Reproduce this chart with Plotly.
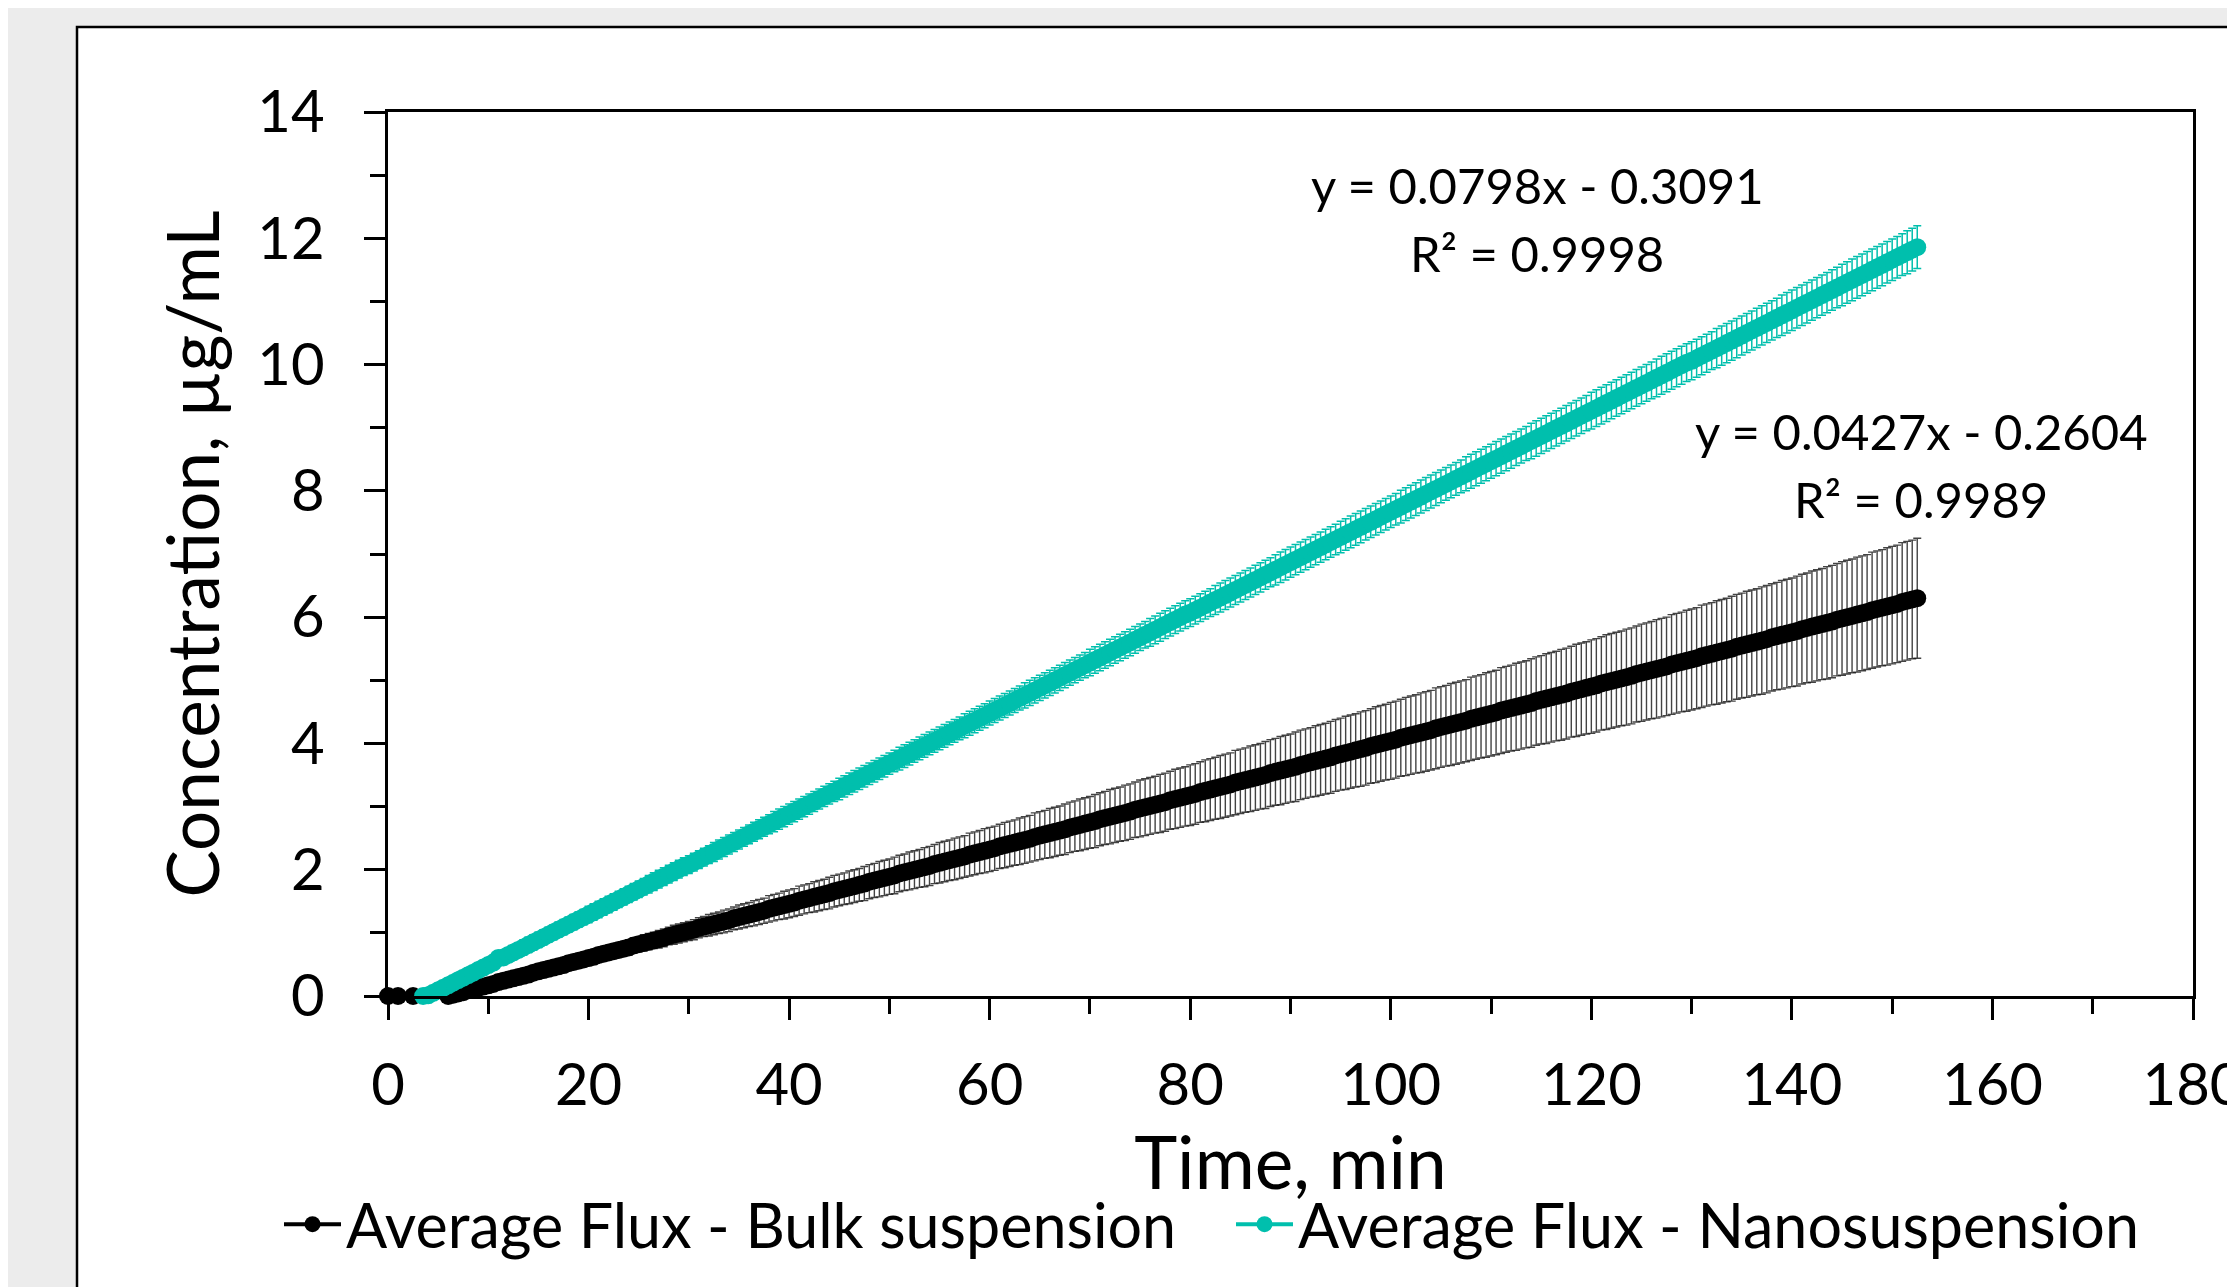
import plotly.graph_objects as go

# ---------------- data ----------------
bulk_time = [
    0, 1, 2.5,
    6, 6.5, 7, 7.5, 8, 8.5, 9, 9.5, 10, 10.5,
    11, 11.5, 12, 12.5, 13, 13.5, 14, 14.5, 15, 15.5,
    16, 16.5, 17, 17.5, 18, 18.5, 19, 19.5, 20, 20.5,
    21, 21.5, 22, 22.5, 23, 23.5, 24, 24.5, 25, 25.5,
    26, 26.5, 27, 27.5, 28, 28.5, 29, 29.5, 30, 30.5,
    31, 31.5, 32, 32.5, 33, 33.5, 34, 34.5, 35, 35.5,
    36, 36.5, 37, 37.5, 38, 38.5, 39, 39.5, 40, 40.5,
    41, 41.5, 42, 42.5, 43, 43.5, 44, 44.5, 45, 45.5,
    46, 46.5, 47, 47.5, 48, 48.5, 49, 49.5, 50, 50.5,
    51, 51.5, 52, 52.5, 53, 53.5, 54, 54.5, 55, 55.5,
    56, 56.5, 57, 57.5, 58, 58.5, 59, 59.5, 60, 60.5,
    61, 61.5, 62, 62.5, 63, 63.5, 64, 64.5, 65, 65.5,
    66, 66.5, 67, 67.5, 68, 68.5, 69, 69.5, 70, 70.5,
    71, 71.5, 72, 72.5, 73, 73.5, 74, 74.5, 75, 75.5,
    76, 76.5, 77, 77.5, 78, 78.5, 79, 79.5, 80, 80.5,
    81, 81.5, 82, 82.5, 83, 83.5, 84, 84.5, 85, 85.5,
    86, 86.5, 87, 87.5, 88, 88.5, 89, 89.5, 90, 90.5,
    91, 91.5, 92, 92.5, 93, 93.5, 94, 94.5, 95, 95.5,
    96, 96.5, 97, 97.5, 98, 98.5, 99, 99.5, 100, 100.5,
    101, 101.5, 102, 102.5, 103, 103.5, 104, 104.5, 105, 105.5,
    106, 106.5, 107, 107.5, 108, 108.5, 109, 109.5, 110, 110.5,
    111, 111.5, 112, 112.5, 113, 113.5, 114, 114.5, 115, 115.5,
    116, 116.5, 117, 117.5, 118, 118.5, 119, 119.5, 120, 120.5,
    121, 121.5, 122, 122.5, 123, 123.5, 124, 124.5, 125, 125.5,
    126, 126.5, 127, 127.5, 128, 128.5, 129, 129.5, 130, 130.5,
    131, 131.5, 132, 132.5, 133, 133.5, 134, 134.5, 135, 135.5,
    136, 136.5, 137, 137.5, 138, 138.5, 139, 139.5, 140, 140.5,
    141, 141.5, 142, 142.5, 143, 143.5, 144, 144.5, 145, 145.5,
    146, 146.5, 147, 147.5, 148, 148.5, 149, 149.5, 150, 150.5,
    151, 151.5, 152, 152.5,
]
bulk_conc = [
    0.00, 0.00, 0.00,
    0.00, 0.02, 0.04, 0.06, 0.09, 0.11, 0.13, 0.15, 0.17, 0.19,
    0.22, 0.24, 0.26, 0.28, 0.30, 0.32, 0.34, 0.37, 0.39, 0.41,
    0.43, 0.45, 0.47, 0.49, 0.52, 0.54, 0.56, 0.58, 0.60, 0.62,
    0.65, 0.67, 0.69, 0.71, 0.73, 0.75, 0.77, 0.80, 0.82, 0.84,
    0.86, 0.88, 0.90, 0.92, 0.95, 0.97, 0.99, 1.01, 1.03, 1.05,
    1.08, 1.10, 1.12, 1.14, 1.16, 1.18, 1.20, 1.23, 1.25, 1.27,
    1.29, 1.31, 1.33, 1.35, 1.38, 1.40, 1.42, 1.44, 1.46, 1.48,
    1.51, 1.53, 1.55, 1.57, 1.59, 1.61, 1.63, 1.66, 1.68, 1.70,
    1.72, 1.74, 1.76, 1.78, 1.81, 1.83, 1.85, 1.87, 1.89, 1.91,
    1.94, 1.96, 1.98, 2.00, 2.02, 2.04, 2.06, 2.09, 2.11, 2.13,
    2.15, 2.17, 2.19, 2.21, 2.24, 2.26, 2.28, 2.30, 2.32, 2.34,
    2.37, 2.39, 2.41, 2.43, 2.45, 2.47, 2.49, 2.52, 2.54, 2.56,
    2.58, 2.60, 2.62, 2.64, 2.67, 2.69, 2.71, 2.73, 2.75, 2.77,
    2.80, 2.82, 2.84, 2.86, 2.88, 2.90, 2.92, 2.95, 2.97, 2.99,
    3.01, 3.03, 3.05, 3.07, 3.10, 3.12, 3.14, 3.16, 3.18, 3.20,
    3.23, 3.25, 3.27, 3.29, 3.31, 3.33, 3.35, 3.38, 3.40, 3.42,
    3.44, 3.46, 3.48, 3.50, 3.53, 3.55, 3.57, 3.59, 3.61, 3.63,
    3.66, 3.68, 3.70, 3.72, 3.74, 3.76, 3.78, 3.81, 3.83, 3.85,
    3.87, 3.89, 3.91, 3.93, 3.96, 3.98, 4.00, 4.02, 4.04, 4.06,
    4.09, 4.11, 4.13, 4.15, 4.17, 4.19, 4.21, 4.24, 4.26, 4.28,
    4.30, 4.32, 4.34, 4.36, 4.39, 4.41, 4.43, 4.45, 4.47, 4.49,
    4.52, 4.54, 4.56, 4.58, 4.60, 4.62, 4.64, 4.67, 4.69, 4.71,
    4.73, 4.75, 4.77, 4.79, 4.82, 4.84, 4.86, 4.88, 4.90, 4.92,
    4.95, 4.97, 4.99, 5.01, 5.03, 5.05, 5.07, 5.10, 5.12, 5.14,
    5.16, 5.18, 5.20, 5.22, 5.25, 5.27, 5.29, 5.31, 5.33, 5.35,
    5.38, 5.40, 5.42, 5.44, 5.46, 5.48, 5.50, 5.53, 5.55, 5.57,
    5.59, 5.61, 5.63, 5.65, 5.68, 5.70, 5.72, 5.74, 5.76, 5.78,
    5.81, 5.83, 5.85, 5.87, 5.89, 5.91, 5.93, 5.96, 5.98, 6.00,
    6.02, 6.04, 6.06, 6.08, 6.11, 6.13, 6.15, 6.17, 6.19, 6.21,
    6.24, 6.26, 6.28, 6.30,
]
bulk_sd = [
    0.00, 0.00, 0.00,
    0.00, 0.00, 0.01, 0.01, 0.01, 0.02, 0.02, 0.02, 0.03, 0.03,
    0.03, 0.04, 0.04, 0.04, 0.05, 0.05, 0.05, 0.05, 0.06, 0.06,
    0.06, 0.07, 0.07, 0.07, 0.08, 0.08, 0.08, 0.09, 0.09, 0.09,
    0.10, 0.10, 0.10, 0.11, 0.11, 0.11, 0.12, 0.12, 0.12, 0.13,
    0.13, 0.13, 0.14, 0.14, 0.14, 0.15, 0.15, 0.15, 0.15, 0.16,
    0.16, 0.16, 0.17, 0.17, 0.17, 0.18, 0.18, 0.18, 0.19, 0.19,
    0.19, 0.20, 0.20, 0.20, 0.21, 0.21, 0.21, 0.22, 0.22, 0.22,
    0.23, 0.23, 0.23, 0.24, 0.24, 0.24, 0.25, 0.25, 0.25, 0.25,
    0.26, 0.26, 0.26, 0.27, 0.27, 0.27, 0.28, 0.28, 0.28, 0.29,
    0.29, 0.29, 0.30, 0.30, 0.30, 0.31, 0.31, 0.31, 0.32, 0.32,
    0.32, 0.33, 0.33, 0.33, 0.34, 0.34, 0.34, 0.35, 0.35, 0.35,
    0.35, 0.36, 0.36, 0.36, 0.37, 0.37, 0.37, 0.38, 0.38, 0.38,
    0.39, 0.39, 0.39, 0.40, 0.40, 0.40, 0.41, 0.41, 0.41, 0.42,
    0.42, 0.42, 0.43, 0.43, 0.43, 0.44, 0.44, 0.44, 0.45, 0.45,
    0.45, 0.45, 0.46, 0.46, 0.46, 0.47, 0.47, 0.47, 0.48, 0.48,
    0.48, 0.49, 0.49, 0.49, 0.50, 0.50, 0.50, 0.51, 0.51, 0.51,
    0.52, 0.52, 0.52, 0.53, 0.53, 0.53, 0.54, 0.54, 0.54, 0.55,
    0.55, 0.55, 0.55, 0.56, 0.56, 0.56, 0.57, 0.57, 0.57, 0.58,
    0.58, 0.58, 0.59, 0.59, 0.59, 0.60, 0.60, 0.60, 0.61, 0.61,
    0.61, 0.62, 0.62, 0.62, 0.63, 0.63, 0.63, 0.64, 0.64, 0.64,
    0.65, 0.65, 0.65, 0.65, 0.66, 0.66, 0.66, 0.67, 0.67, 0.67,
    0.68, 0.68, 0.68, 0.69, 0.69, 0.69, 0.70, 0.70, 0.70, 0.71,
    0.71, 0.71, 0.72, 0.72, 0.72, 0.73, 0.73, 0.73, 0.74, 0.74,
    0.74, 0.75, 0.75, 0.75, 0.75, 0.76, 0.76, 0.76, 0.77, 0.77,
    0.77, 0.78, 0.78, 0.78, 0.79, 0.79, 0.79, 0.80, 0.80, 0.80,
    0.81, 0.81, 0.81, 0.82, 0.82, 0.82, 0.83, 0.83, 0.83, 0.84,
    0.84, 0.84, 0.85, 0.85, 0.85, 0.85, 0.86, 0.86, 0.86, 0.87,
    0.87, 0.87, 0.88, 0.88, 0.88, 0.89, 0.89, 0.89, 0.90, 0.90,
    0.90, 0.91, 0.91, 0.91, 0.92, 0.92, 0.92, 0.93, 0.93, 0.93,
    0.94, 0.94, 0.94, 0.95,
]

nano_time = [
    3.5,
    4, 4.5, 5, 5.5, 6, 6.5, 7, 7.5, 8, 8.5,
    9, 9.5, 10, 10.5, 11, 11.5, 12, 12.5, 13, 13.5,
    14, 14.5, 15, 15.5, 16, 16.5, 17, 17.5, 18, 18.5,
    19, 19.5, 20, 20.5, 21, 21.5, 22, 22.5, 23, 23.5,
    24, 24.5, 25, 25.5, 26, 26.5, 27, 27.5, 28, 28.5,
    29, 29.5, 30, 30.5, 31, 31.5, 32, 32.5, 33, 33.5,
    34, 34.5, 35, 35.5, 36, 36.5, 37, 37.5, 38, 38.5,
    39, 39.5, 40, 40.5, 41, 41.5, 42, 42.5, 43, 43.5,
    44, 44.5, 45, 45.5, 46, 46.5, 47, 47.5, 48, 48.5,
    49, 49.5, 50, 50.5, 51, 51.5, 52, 52.5, 53, 53.5,
    54, 54.5, 55, 55.5, 56, 56.5, 57, 57.5, 58, 58.5,
    59, 59.5, 60, 60.5, 61, 61.5, 62, 62.5, 63, 63.5,
    64, 64.5, 65, 65.5, 66, 66.5, 67, 67.5, 68, 68.5,
    69, 69.5, 70, 70.5, 71, 71.5, 72, 72.5, 73, 73.5,
    74, 74.5, 75, 75.5, 76, 76.5, 77, 77.5, 78, 78.5,
    79, 79.5, 80, 80.5, 81, 81.5, 82, 82.5, 83, 83.5,
    84, 84.5, 85, 85.5, 86, 86.5, 87, 87.5, 88, 88.5,
    89, 89.5, 90, 90.5, 91, 91.5, 92, 92.5, 93, 93.5,
    94, 94.5, 95, 95.5, 96, 96.5, 97, 97.5, 98, 98.5,
    99, 99.5, 100, 100.5, 101, 101.5, 102, 102.5, 103, 103.5,
    104, 104.5, 105, 105.5, 106, 106.5, 107, 107.5, 108, 108.5,
    109, 109.5, 110, 110.5, 111, 111.5, 112, 112.5, 113, 113.5,
    114, 114.5, 115, 115.5, 116, 116.5, 117, 117.5, 118, 118.5,
    119, 119.5, 120, 120.5, 121, 121.5, 122, 122.5, 123, 123.5,
    124, 124.5, 125, 125.5, 126, 126.5, 127, 127.5, 128, 128.5,
    129, 129.5, 130, 130.5, 131, 131.5, 132, 132.5, 133, 133.5,
    134, 134.5, 135, 135.5, 136, 136.5, 137, 137.5, 138, 138.5,
    139, 139.5, 140, 140.5, 141, 141.5, 142, 142.5, 143, 143.5,
    144, 144.5, 145, 145.5, 146, 146.5, 147, 147.5, 148, 148.5,
    149, 149.5, 150, 150.5, 151, 151.5, 152, 152.5,
]
nano_conc = [
    0.00,
    0.01, 0.05, 0.09, 0.13, 0.17, 0.21, 0.25, 0.29, 0.33, 0.37,
    0.41, 0.45, 0.49, 0.53, 0.60, 0.61, 0.65, 0.69, 0.73, 0.77,
    0.81, 0.85, 0.89, 0.93, 0.97, 1.01, 1.05, 1.09, 1.13, 1.17,
    1.21, 1.25, 1.29, 1.33, 1.37, 1.41, 1.45, 1.49, 1.53, 1.57,
    1.61, 1.65, 1.69, 1.73, 1.77, 1.81, 1.85, 1.89, 1.93, 1.97,
    2.01, 2.05, 2.08, 2.12, 2.16, 2.20, 2.24, 2.28, 2.32, 2.36,
    2.40, 2.44, 2.48, 2.52, 2.56, 2.60, 2.64, 2.68, 2.72, 2.76,
    2.80, 2.84, 2.88, 2.92, 2.96, 3.00, 3.04, 3.08, 3.12, 3.16,
    3.20, 3.24, 3.28, 3.32, 3.36, 3.40, 3.44, 3.48, 3.52, 3.56,
    3.60, 3.64, 3.68, 3.72, 3.76, 3.80, 3.84, 3.88, 3.92, 3.96,
    4.00, 4.04, 4.08, 4.12, 4.16, 4.20, 4.24, 4.28, 4.32, 4.36,
    4.40, 4.44, 4.48, 4.52, 4.56, 4.60, 4.64, 4.68, 4.72, 4.76,
    4.80, 4.84, 4.88, 4.92, 4.96, 5.00, 5.04, 5.08, 5.12, 5.16,
    5.20, 5.24, 5.28, 5.32, 5.36, 5.40, 5.44, 5.48, 5.52, 5.56,
    5.60, 5.64, 5.68, 5.72, 5.76, 5.80, 5.84, 5.88, 5.92, 5.96,
    6.00, 6.04, 6.07, 6.11, 6.15, 6.19, 6.23, 6.27, 6.31, 6.35,
    6.39, 6.43, 6.47, 6.51, 6.55, 6.59, 6.63, 6.67, 6.71, 6.75,
    6.79, 6.83, 6.87, 6.91, 6.95, 6.99, 7.03, 7.07, 7.11, 7.15,
    7.19, 7.23, 7.27, 7.31, 7.35, 7.39, 7.43, 7.47, 7.51, 7.55,
    7.59, 7.63, 7.67, 7.71, 7.75, 7.79, 7.83, 7.87, 7.91, 7.95,
    7.99, 8.03, 8.07, 8.11, 8.15, 8.19, 8.23, 8.27, 8.31, 8.35,
    8.39, 8.43, 8.47, 8.51, 8.55, 8.59, 8.63, 8.67, 8.71, 8.75,
    8.79, 8.83, 8.87, 8.91, 8.95, 8.99, 9.03, 9.07, 9.11, 9.15,
    9.19, 9.23, 9.27, 9.31, 9.35, 9.39, 9.43, 9.47, 9.51, 9.55,
    9.59, 9.63, 9.67, 9.71, 9.75, 9.79, 9.83, 9.87, 9.91, 9.95,
    9.99, 10.03, 10.06, 10.10, 10.14, 10.18, 10.22, 10.26, 10.30, 10.34,
    10.38, 10.42, 10.46, 10.50, 10.54, 10.58, 10.62, 10.66, 10.70, 10.74,
    10.78, 10.82, 10.86, 10.90, 10.94, 10.98, 11.02, 11.06, 11.10, 11.14,
    11.18, 11.22, 11.26, 11.30, 11.34, 11.38, 11.42, 11.46, 11.50, 11.54,
    11.58, 11.62, 11.66, 11.70, 11.74, 11.78, 11.82, 11.86,
]
nano_sd = [
    0.10,
    0.10, 0.10, 0.10, 0.10, 0.10, 0.10, 0.10, 0.11, 0.11, 0.11,
    0.11, 0.11, 0.11, 0.11, 0.11, 0.11, 0.11, 0.11, 0.11, 0.12,
    0.12, 0.12, 0.12, 0.12, 0.12, 0.12, 0.12, 0.12, 0.12, 0.12,
    0.12, 0.12, 0.13, 0.13, 0.13, 0.13, 0.13, 0.13, 0.13, 0.13,
    0.13, 0.13, 0.13, 0.13, 0.14, 0.14, 0.14, 0.14, 0.14, 0.14,
    0.14, 0.14, 0.14, 0.14, 0.14, 0.14, 0.14, 0.15, 0.15, 0.15,
    0.15, 0.15, 0.15, 0.15, 0.15, 0.15, 0.15, 0.15, 0.15, 0.16,
    0.16, 0.16, 0.16, 0.16, 0.16, 0.16, 0.16, 0.16, 0.16, 0.16,
    0.16, 0.16, 0.17, 0.17, 0.17, 0.17, 0.17, 0.17, 0.17, 0.17,
    0.17, 0.17, 0.17, 0.17, 0.18, 0.18, 0.18, 0.18, 0.18, 0.18,
    0.18, 0.18, 0.18, 0.18, 0.18, 0.18, 0.18, 0.19, 0.19, 0.19,
    0.19, 0.19, 0.19, 0.19, 0.19, 0.19, 0.19, 0.19, 0.19, 0.20,
    0.20, 0.20, 0.20, 0.20, 0.20, 0.20, 0.20, 0.20, 0.20, 0.20,
    0.20, 0.20, 0.21, 0.21, 0.21, 0.21, 0.21, 0.21, 0.21, 0.21,
    0.21, 0.21, 0.21, 0.21, 0.22, 0.22, 0.22, 0.22, 0.22, 0.22,
    0.22, 0.22, 0.22, 0.22, 0.22, 0.22, 0.22, 0.23, 0.23, 0.23,
    0.23, 0.23, 0.23, 0.23, 0.23, 0.23, 0.23, 0.23, 0.23, 0.24,
    0.24, 0.24, 0.24, 0.24, 0.24, 0.24, 0.24, 0.24, 0.24, 0.24,
    0.24, 0.24, 0.25, 0.25, 0.25, 0.25, 0.25, 0.25, 0.25, 0.25,
    0.25, 0.25, 0.25, 0.25, 0.26, 0.26, 0.26, 0.26, 0.26, 0.26,
    0.26, 0.26, 0.26, 0.26, 0.26, 0.26, 0.26, 0.27, 0.27, 0.27,
    0.27, 0.27, 0.27, 0.27, 0.27, 0.27, 0.27, 0.27, 0.27, 0.27,
    0.28, 0.28, 0.28, 0.28, 0.28, 0.28, 0.28, 0.28, 0.28, 0.28,
    0.28, 0.28, 0.29, 0.29, 0.29, 0.29, 0.29, 0.29, 0.29, 0.29,
    0.29, 0.29, 0.29, 0.29, 0.29, 0.30, 0.30, 0.30, 0.30, 0.30,
    0.30, 0.30, 0.30, 0.30, 0.30, 0.30, 0.30, 0.31, 0.31, 0.31,
    0.31, 0.31, 0.31, 0.31, 0.31, 0.31, 0.31, 0.31, 0.31, 0.31,
    0.32, 0.32, 0.32, 0.32, 0.32, 0.32, 0.32, 0.32, 0.32, 0.32,
    0.32, 0.32, 0.33, 0.33, 0.33, 0.33, 0.33, 0.33, 0.33, 0.33,
    0.33, 0.33, 0.33, 0.33, 0.33, 0.34, 0.34, 0.34,
]

series_names = ["Average Flux - Bulk suspension", "Average Flux - Nanosuspension"]
trend_labels = [
    ("y = 0.0798x - 0.3091", "R² = 0.9998"),
    ("y = 0.0427x - 0.2604", "R² = 0.9989"),
]
x_ticks = [0, 20, 40, 60, 80, 100, 120, 140, 160, 180]
y_ticks = [0, 2, 4, 6, 8, 10, 12, 14]

# ---------------- styling ----------------
BLACK = "#000000"
TEAL = "#00BFAD"
FONT = "Lato"
OFF = 8                      # page body margin of the browser
W, H = 2235 - OFF, 1287 - OFF
ML, MR, MT, MB = 388 - OFF, 42, 112 - OFF, 291
pw = W - ML - MR
ph = H - MT - MB

fig = go.Figure()
fig.add_trace(go.Scatter(
    x=bulk_time, y=bulk_conc, mode="lines+markers", name=series_names[0],
    line=dict(color=BLACK, width=4),
    marker=dict(size=18, color=BLACK),
    error_y=dict(type="data", array=bulk_sd, visible=True,
                 color="rgba(20,20,20,0.8)", thickness=1.4, width=4),
    cliponaxis=False, legendwidth=880,
))
fig.add_trace(go.Scatter(
    x=nano_time, y=nano_conc, mode="lines+markers", name=series_names[1],
    line=dict(color=TEAL, width=4),
    marker=dict(size=18, color=TEAL),
    error_y=dict(type="data", array=nano_sd, visible=True,
                 color="rgba(0,191,173,1)", thickness=1.5, width=4),
    cliponaxis=False,
))

axis_common = dict(
    showline=True, linecolor=BLACK, linewidth=2.5, mirror=True,
    showgrid=False, zeroline=False, automargin=False,
    ticks="outside", ticklen=21, tickwidth=2.5, tickcolor=BLACK,
    tickfont=dict(family=FONT, size=58, color=BLACK),
    ticklabeloverflow="allow",
)

fig.update_xaxes(
    range=[0, 180], tickmode="array", tickvals=x_ticks,
    ticktext=[str(v) for v in x_ticks],
    minor=dict(dtick=10, tick0=0, ticks="outside", ticklen=15, tickwidth=2.5,
               tickcolor=BLACK, showgrid=False),
    title=dict(text="Time, min", font=dict(family=FONT, size=73, color=BLACK), standoff=12),
    ticklabelstandoff=16,
    **axis_common,
)
fig.update_yaxes(
    range=[0, 14], tickmode="array", tickvals=y_ticks,
    ticktext=[str(v) for v in y_ticks],
    minor=dict(dtick=1, tick0=0, ticks="outside", ticklen=15, tickwidth=2.5,
               tickcolor=BLACK, showgrid=False),
    title=dict(text="Concentration, µg/mL", font=dict(family=FONT, size=71, color=BLACK), standoff=15),
    ticklabelstandoff=28,
    **axis_common,
)

annotations = []
for (eq, r2), (xc, y1, y2) in zip(trend_labels, [(114.6, 12.84, 11.76), (152.9, 8.95, 7.87)]):
    annotations.append(dict(x=xc, y=y1, xref="x", yref="y", text=eq, showarrow=False,
                            xanchor="center", yanchor="middle",
                            font=dict(family=FONT, size=49, color=BLACK)))
    annotations.append(dict(x=xc, y=y2, xref="x", yref="y", text=r2, showarrow=False,
                            xanchor="center", yanchor="middle",
                            font=dict(family=FONT, size=49, color=BLACK)))

fig.update_layout(
    width=W, height=H,
    margin=dict(l=ML, r=MR, t=MT, b=MB, pad=0, autoexpand=False),
    paper_bgcolor="#ececec", plot_bgcolor="white",
    font=dict(family=FONT, color=BLACK),
    showlegend=True,
    legend=dict(orientation="h", x=(271 - ML) / pw, xanchor="left",
                y=-228.5 / ph, yanchor="middle",
                font=dict(family=FONT, size=61, color=BLACK),
                bgcolor="rgba(0,0,0,0)", itemwidth=57, tracegroupgap=0),
    annotations=annotations,
    shapes=[dict(type="rect", xref="paper", yref="paper",
                 x0=(77 - OFF - ML) / pw, x1=1.2, y0=-0.6,
                 y1=(MT + ph - (27 - OFF)) / ph,
                 fillcolor="white", line=dict(color=BLACK, width=2.5), layer="below")],
    hovermode=False,
)

fig.write_html("out.html")
